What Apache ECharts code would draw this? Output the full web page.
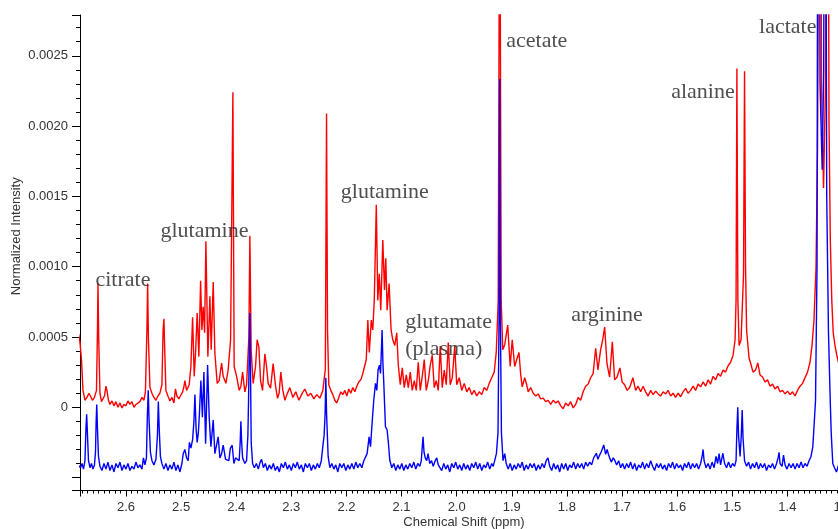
<!DOCTYPE html>
<html>
<head>
<meta charset="utf-8">
<script src="https://cdn.jsdelivr.net/npm/echarts/dist/echarts.min.js"></script>
<style>
  html, body { margin: 0; padding: 0; background: #ffffff; overflow: hidden; }
  #chart { width: 838px; height: 529px; }
</style>
</head>
<body>
<div id="chart"></div>
<script>
// Intensities below are stored in units of 1e-5 (normalized intensity).
const INTENSITY_UNIT = 1e-5;

// Upper trace: [chemical shift (ppm), intensity / 1e-5]
const redSpectrum = [
  [2.686, 52], [2.6834, 46], [2.6807, 34], [2.6780, 12], [2.6744, 5], [2.6708, 7], [2.6671, 10], [2.6644, 11],
  [2.6608, 5], [2.6572, 7], [2.6535, 12], [2.6517, 55], [2.6508, 88], [2.6494, 48], [2.6472, 10], [2.6445, 4],
  [2.6417, 5], [2.6390, 8], [2.6363, 15], [2.6345, 12], [2.6318, 5], [2.6291, 2], [2.6254, 4.5], [2.6218, 1],
  [2.6182, 4], [2.6145, 0], [2.6109, 3], [2.6073, -0.5], [2.6037, 2], [2.6000, 1], [2.5964, 4.5], [2.5928, 2],
  [2.5892, 4], [2.5855, 0], [2.5819, 2], [2.5783, 1], [2.5747, 4], [2.5710, 7], [2.5674, 5], [2.5647, 11],
  [2.5620, 55], [2.5607, 88], [2.5592, 48], [2.5565, 14], [2.5529, 10], [2.5493, 7], [2.5456, 5], [2.5420, 8],
  [2.5384, 10], [2.5348, 16], [2.5326, 55], [2.5311, 63], [2.5297, 41], [2.5275, 12], [2.5239, 8], [2.5203, 4.5],
  [2.5166, 7], [2.5130, 3], [2.5103, 13], [2.5076, 8], [2.5039, 6], [2.5021, 7.5], [2.4972, 11], [2.4949, 14.6],
  [2.4931, 19], [2.4900, 12], [2.4853, 16], [2.4822, 29], [2.4791, 64], [2.4762, 22], [2.4737, 39], [2.4708, 67],
  [2.4677, 36], [2.4646, 90], [2.4622, 55], [2.4599, 71.5], [2.4573, 53], [2.4550, 118], [2.4514, 36], [2.4477, 79],
  [2.4454, 41], [2.4417, 89], [2.4387, 38.6], [2.4345, 17], [2.4309, 19], [2.4265, 31.5], [2.4236, 22], [2.4187, 17],
  [2.4146, 26.5], [2.4102, 48], [2.4060, 224], [2.4037, 29], [2.3993, 22], [2.3946, 12], [2.3915, 15], [2.3884, 25],
  [2.3843, 11], [2.3812, 16], [2.3770, 50], [2.3752, 122], [2.3728, 40], [2.3692, 17], [2.3649, 29], [2.3620, 48],
  [2.3589, 43], [2.3558, 19], [2.3522, 12], [2.3480, 38], [2.3449, 29], [2.3420, 17], [2.3377, 13.5], [2.3330, 31],
  [2.3286, 15], [2.3250, 6.4], [2.3221, 10], [2.3190, 25], [2.3154, 12], [2.3117, 5], [2.3081, 9], [2.3027, 14],
  [2.2972, 7], [2.2918, 11], [2.2863, 5], [2.2809, 9.5], [2.2755, 13], [2.2700, 8], [2.2646, 10], [2.2592, 6],
  [2.2537, 9], [2.2483, 6.5], [2.2428, 12], [2.2383, 27], [2.2361, 209], [2.2343, 55], [2.2320, 16], [2.2283, 12],
  [2.2247, 9], [2.2211, 5], [2.2175, 3], [2.2138, 7], [2.2102, 11], [2.2066, 9], [2.2029, 12], [2.1993, 8],
  [2.1957, 13], [2.1921, 10], [2.1884, 14], [2.1848, 11], [2.1812, 15], [2.1776, 18], [2.1739, 19.5], [2.1703, 24],
  [2.1667, 25], [2.1640, 34], [2.1612, 62], [2.1585, 39], [2.1549, 62], [2.1522, 55], [2.1495, 76], [2.1458, 144],
  [2.1431, 76], [2.1404, 95], [2.1377, 69], [2.1340, 119], [2.1310, 83.5], [2.1286, 106], [2.1262, 69], [2.1226, 88],
  [2.1190, 55], [2.1159, 48], [2.1123, 44], [2.1087, 53], [2.1059, 30], [2.1023, 16], [2.0987, 28], [2.0951, 14],
  [2.0914, 23], [2.0878, 14], [2.0842, 25], [2.0806, 12], [2.0769, 19], [2.0733, 12], [2.0697, 32], [2.0661, 12],
  [2.0624, 22], [2.0588, 34], [2.0552, 12], [2.0515, 19], [2.0479, 30], [2.0443, 37], [2.0407, 14], [2.0370, 19],
  [2.0334, 12], [2.0298, 43.5], [2.0262, 14], [2.0225, 26.5], [2.0189, 16], [2.0153, 46], [2.0117, 16], [2.0080, 21],
  [2.0035, 43.5], [1.9999, 16], [1.9953, 21], [1.9908, 12], [1.9863, 17], [1.9817, 11], [1.9772, 14], [1.9727, 9],
  [1.9681, 12], [1.9636, 8], [1.9591, 11], [1.9545, 9], [1.9500, 14], [1.9455, 12], [1.9409, 17], [1.9364, 21],
  [1.9319, 25], [1.9282, 39], [1.9246, 76], [1.9219, 420], [1.9192, 76], [1.9164, 41], [1.9128, 44.5], [1.9074, 58.5],
  [1.9029, 29], [1.8992, 48], [1.8947, 29], [1.8911, 34], [1.8869, 39], [1.8838, 23], [1.8811, 14.5], [1.8766, 21],
  [1.8729, 16], [1.8702, 11], [1.8657, 14], [1.8612, 10], [1.8566, 8], [1.8521, 9.5], [1.8476, 6], [1.8430, 6.5],
  [1.8385, 4], [1.8340, 5], [1.8294, 2], [1.8249, 5], [1.8204, 3], [1.8158, 4.5], [1.8113, 1], [1.8068, -1],
  [1.8022, 3], [1.7977, 1], [1.7932, 4], [1.7886, -0.5], [1.7841, 2], [1.7796, 7], [1.7750, 5], [1.7705, 11],
  [1.7660, 15], [1.7614, 16.5], [1.7569, 21], [1.7524, 24], [1.7478, 42], [1.7437, 26.5], [1.7388, 41], [1.7351, 48],
  [1.7315, 57], [1.7273, 31], [1.7225, 21.5], [1.7176, 46.5], [1.7134, 19.5], [1.7089, 21.5], [1.7038, 28], [1.6998, 18],
  [1.6953, 16], [1.6907, 12], [1.6862, 14], [1.6802, 21], [1.6753, 12], [1.6708, 15], [1.6662, 11], [1.6617, 15],
  [1.6572, 11], [1.6526, 8], [1.6481, 12], [1.6436, 9], [1.6390, 11.5], [1.6345, 9.5], [1.6300, 8], [1.6254, 11],
  [1.6209, 9.5], [1.6164, 12], [1.6118, 8], [1.6073, 10], [1.6028, 7], [1.5982, 10], [1.5937, 7.5], [1.5892, 11],
  [1.5846, 13.5], [1.5801, 10], [1.5756, 12], [1.5710, 15], [1.5665, 12], [1.5620, 16.5], [1.5574, 14.5], [1.5529, 18],
  [1.5484, 15], [1.5438, 19.5], [1.5393, 16.5], [1.5348, 22], [1.5302, 19.5], [1.5257, 24], [1.5212, 22], [1.5166, 26.5],
  [1.5121, 25], [1.5076, 29.5], [1.5030, 32], [1.4985, 37], [1.4949, 48], [1.4931, 76], [1.4916, 241], [1.4898, 76],
  [1.4876, 44], [1.4858, 43], [1.4840, 48], [1.4795, 95], [1.4777, 239], [1.4759, 100], [1.4740, 55], [1.4695, 35],
  [1.4668, 31.5], [1.4623, 25], [1.4577, 26.5], [1.4536, 31.5], [1.4496, 23], [1.4450, 21.5], [1.4405, 18], [1.4360, 19.5],
  [1.4314, 15], [1.4269, 16.5], [1.4224, 13], [1.4178, 15], [1.4133, 11], [1.4088, 12], [1.4042, 9.5], [1.3997, 11.5],
  [1.3952, 9], [1.3906, 11], [1.3861, 8], [1.3816, 12], [1.3770, 15], [1.3725, 17], [1.3680, 21], [1.3634, 25],
  [1.3589, 32], [1.3553, 44], [1.3517, 62], [1.3480, 100], [1.3453, 183], [1.3431, 350], [1.3407, 620], [1.3381, 230],
  [1.3344, 156], [1.3308, 230], [1.3272, 600], [1.3245, 204], [1.3221, 119], [1.3194, 76], [1.3168, 53], [1.3136, 44],
  [1.3109, 38], [1.3072, 32], [1.3018, 27]
];

// Lower trace: [chemical shift (ppm), intensity / 1e-5]
const blueSpectrum = [
  [2.6870, -41], [2.6825, -43], [2.6798, -40], [2.6771, -44], [2.6744, -38], [2.6726, -15], [2.6713, -5], [2.6698, -20],
  [2.6680, -38], [2.6653, -43], [2.6626, -40], [2.6599, -44], [2.6572, -41], [2.6553, -32], [2.6541, -10], [2.6530, 2],
  [2.6517, -15], [2.6499, -35], [2.6472, -42], [2.6436, -45], [2.6399, -40], [2.6363, -44], [2.6327, -39], [2.6291, -45],
  [2.6254, -41], [2.6218, -46], [2.6182, -40], [2.6145, -43], [2.6109, -39], [2.6073, -45], [2.6037, -41], [2.6000, -44],
  [2.5964, -40], [2.5928, -45], [2.5892, -42], [2.5855, -44], [2.5819, -39], [2.5783, -43], [2.5747, -41], [2.5710, -44],
  [2.5683, -36], [2.5656, -41], [2.5629, -36], [2.5611, -5], [2.5596, 12], [2.5580, -10], [2.5556, -32], [2.5529, -38],
  [2.5493, -41], [2.5456, -37], [2.5429, -20], [2.5413, 4], [2.5397, -15], [2.5375, -35], [2.5348, -40], [2.5311, -44],
  [2.5275, -40], [2.5239, -45], [2.5203, -41], [2.5166, -44], [2.5130, -39], [2.5094, -45], [2.5058, -41], [2.5021, -46],
  [2.4985, -40], [2.4961, -33], [2.4931, -30], [2.4900, -36], [2.4871, -38], [2.4849, -25], [2.4822, -29], [2.4791, -23],
  [2.4767, -10], [2.4749, 9], [2.4728, -15], [2.4708, -25], [2.4686, -18], [2.4668, -5], [2.4641, 19], [2.4613, -7],
  [2.4586, 25], [2.4555, -26], [2.4519, 30], [2.4490, -7], [2.4459, -28], [2.4417, -9], [2.4387, -33], [2.4356, -27],
  [2.4327, -21], [2.4296, -36], [2.4265, -33], [2.4236, -27], [2.4193, -37], [2.4164, -36], [2.4133, -38], [2.4106, -29],
  [2.4073, -27], [2.4042, -40], [2.4011, -36], [2.3982, -36], [2.3946, -38], [2.3928, -25], [2.3915, -10], [2.3901, -25],
  [2.3884, -36], [2.3843, -40], [2.3812, -38], [2.3788, -20], [2.3776, 5], [2.3763, 40], [2.3752, 67], [2.3741, 30],
  [2.3728, -25], [2.3703, -40], [2.3670, -43], [2.3634, -40], [2.3598, -44], [2.3565, -39], [2.3540, -37], [2.3507, -43],
  [2.3471, -40], [2.3435, -45], [2.3398, -41], [2.3362, -44], [2.3326, -40], [2.3290, -45], [2.3253, -42], [2.3217, -46],
  [2.3181, -40], [2.3145, -43], [2.3108, -39], [2.3072, -44], [2.3036, -41], [2.3000, -45], [2.2963, -40], [2.2927, -43],
  [2.2891, -39], [2.2855, -44], [2.2818, -41], [2.2782, -46], [2.2746, -40], [2.2709, -43], [2.2673, -40], [2.2637, -45],
  [2.2601, -41], [2.2564, -44], [2.2528, -40], [2.2492, -43], [2.2456, -38], [2.2434, -30], [2.2405, -20], [2.2387, -5],
  [2.2374, 21], [2.2360, -5], [2.2332, -35], [2.2301, -43], [2.2265, -40], [2.2229, -44], [2.2193, -41], [2.2156, -46],
  [2.2120, -40], [2.2084, -43], [2.2048, -40], [2.2011, -45], [2.1975, -41], [2.1939, -44], [2.1903, -40], [2.1866, -44],
  [2.1830, -39], [2.1794, -43], [2.1757, -40], [2.1721, -43], [2.1685, -38], [2.1654, -37], [2.1625, -33], [2.1589, -21],
  [2.1563, -28], [2.1527, -7], [2.1504, 5], [2.1473, 17], [2.1449, 12], [2.1426, 26.5], [2.1400, 30], [2.1382, 24],
  [2.1366, 40], [2.1353, 55], [2.1337, 30], [2.1322, 17], [2.1292, -14], [2.1262, -16], [2.1237, -26], [2.1214, -37.5],
  [2.1177, -43], [2.1141, -40], [2.1105, -45], [2.1068, -41], [2.1032, -44], [2.0996, -40], [2.0960, -45], [2.0923, -41],
  [2.0887, -44], [2.0851, -40], [2.0815, -43], [2.0778, -39], [2.0742, -44], [2.0706, -40], [2.0669, -42], [2.0642, -38],
  [2.0624, -28], [2.0610, -21], [2.0592, -32], [2.0570, -36], [2.0543, -38], [2.0519, -33], [2.0488, -40], [2.0457, -38],
  [2.0425, -42], [2.0389, -38], [2.0361, -36], [2.0334, -41], [2.0307, -42], [2.0271, -45], [2.0234, -40], [2.0198, -44],
  [2.0162, -41], [2.0126, -46], [2.0089, -40], [2.0053, -43], [2.0017, -39], [1.9981, -44], [1.9944, -41], [1.9908, -45],
  [1.9872, -40], [1.9836, -44], [1.9799, -41], [1.9763, -45], [1.9727, -40], [1.9690, -43], [1.9654, -39], [1.9618, -44],
  [1.9582, -40], [1.9545, -45], [1.9509, -41], [1.9473, -43], [1.9437, -39], [1.9400, -44], [1.9364, -40], [1.9337, -42],
  [1.9310, -38], [1.9279, -33], [1.9250, -18], [1.9232, 60], [1.9219, 233.5], [1.9206, 60], [1.9188, -18], [1.9159, -38],
  [1.9128, -33], [1.9101, -40], [1.9065, -44], [1.9029, -40], [1.8992, -45], [1.8956, -41], [1.8920, -44], [1.8884, -40],
  [1.8847, -43], [1.8811, -39], [1.8775, -45], [1.8739, -41], [1.8702, -44], [1.8666, -40], [1.8630, -43], [1.8594, -40],
  [1.8557, -45], [1.8521, -41], [1.8485, -44], [1.8448, -40], [1.8412, -43], [1.8376, -38], [1.8343, -36], [1.8312, -42],
  [1.8276, -45], [1.8240, -40], [1.8204, -44], [1.8167, -41], [1.8131, -46], [1.8095, -40], [1.8059, -44], [1.8022, -40],
  [1.7986, -45], [1.7950, -41], [1.7914, -43], [1.7877, -39], [1.7841, -44], [1.7805, -40], [1.7768, -43], [1.7732, -40],
  [1.7696, -44], [1.7660, -39], [1.7623, -42], [1.7587, -39], [1.7551, -41], [1.7515, -36], [1.7466, -32.7], [1.7437, -37],
  [1.7406, -34], [1.7375, -31.5], [1.7351, -29], [1.7333, -26.8], [1.7315, -30], [1.7297, -33.5], [1.7270, -30], [1.7252, -32.7],
  [1.7225, -36], [1.7194, -39], [1.7161, -36], [1.7134, -37.5], [1.7098, -41], [1.7061, -38], [1.7025, -43], [1.6989, -40],
  [1.6953, -44], [1.6916, -40], [1.6880, -43], [1.6844, -39], [1.6807, -44], [1.6771, -40], [1.6735, -45], [1.6699, -41],
  [1.6662, -43], [1.6626, -39], [1.6590, -44], [1.6554, -40], [1.6517, -43], [1.6481, -38], [1.6445, -42], [1.6409, -45],
  [1.6372, -40], [1.6336, -43], [1.6300, -40], [1.6264, -44], [1.6227, -41], [1.6191, -45], [1.6155, -40], [1.6118, -43],
  [1.6082, -39], [1.6046, -44], [1.6010, -40], [1.5973, -43], [1.5937, -41], [1.5901, -45], [1.5865, -40], [1.5828, -43],
  [1.5792, -39], [1.5756, -44], [1.5720, -40], [1.5683, -43], [1.5647, -40], [1.5611, -44], [1.5574, -40], [1.5547, -35],
  [1.5529, -30], [1.5511, -38], [1.5475, -43], [1.5438, -40], [1.5402, -44], [1.5366, -39], [1.5330, -43], [1.5294, -35],
  [1.5266, -40], [1.5239, -33], [1.5212, -41], [1.5170, -32.7], [1.5139, -40], [1.5103, -43], [1.5067, -39], [1.5030, -43],
  [1.4994, -40], [1.4958, -42], [1.4931, -38], [1.4915, -15], [1.4900, 0], [1.4886, -20], [1.4858, -35], [1.4836, -20],
  [1.4820, -2], [1.4804, -22], [1.4777, -38], [1.4740, -42], [1.4704, -39], [1.4668, -44], [1.4632, -40], [1.4595, -43],
  [1.4559, -39], [1.4523, -44], [1.4487, -40], [1.4450, -43], [1.4414, -40], [1.4378, -45], [1.4341, -41], [1.4305, -43],
  [1.4269, -40], [1.4233, -44], [1.4196, -40], [1.4169, -36], [1.4151, -32], [1.4133, -40], [1.4097, -42], [1.4070, -34],
  [1.4042, -41], [1.4006, -44], [1.3970, -40], [1.3933, -43], [1.3897, -40], [1.3861, -44], [1.3825, -40], [1.3788, -43],
  [1.3752, -39], [1.3716, -43], [1.3680, -40], [1.3643, -42], [1.3607, -38], [1.3571, -35], [1.3538, -28], [1.3511, -10],
  [1.3489, 5], [1.3462, 100], [1.3439, 650], [1.3407, 230], [1.3368, 169], [1.3341, 240], [1.3317, 620], [1.3286, 150],
  [1.3254, 53], [1.3226, 10], [1.3205, -18], [1.3176, -40], [1.3145, -43], [1.3109, -46], [1.3072, -41], [1.3018, -44]
];

// Peak assignments: label text anchored at [shift (ppm), normalized intensity]
const annotationText = ['citrate', 'glutamine', 'glutamine', 'glutamate\n(plasma)', 'acetate', 'arginine', 'alanine', 'lactate'];
const annotationShift = [2.6562, 2.5384, 2.2111, 2.0942, 1.9110, 1.7932, 1.6118, 1.4523];
const annotationIntensity = [0.000905, 0.001255, 0.001530, 0.000510, 0.002604, 0.000655, 0.002240, 0.002702];

const toSeries = pts => pts.map(p => [p[0], p[1] * INTENSITY_UNIT]);

const axisFont = { fontFamily: 'Liberation Sans, Arial, sans-serif', fontSize: 13, color: '#333333' };

const chart = echarts.init(document.getElementById('chart'), null, { renderer: 'canvas' });

chart.setOption({
  animation: false,
  backgroundColor: '#ffffff',
  // the plotting area runs a little past the right edge of the canvas
  grid: { left: 80, right: -10, top: 15, bottom: 38.5, containLabel: false, outerBoundsMode: 'none' },
  xAxis: {
    type: 'value',
    inverse: true,
    min: 1.29,
    max: 2.6834,
    splitNumber: 14,
    name: 'Chemical Shift (ppm)',
    nameLocation: 'middle',
    nameGap: 25,
    nameMoveOverlap: false,
    nameTextStyle: axisFont,
    axisLine: { show: true, onZero: false, lineStyle: { color: '#000000', width: 1 } },
    axisTick: { show: true, length: 6, lineStyle: { color: '#000000', width: 1 } },
    minorTick: { show: true, splitNumber: 10, length: 3, lineStyle: { color: '#000000', width: 1 } },
    axisLabel: Object.assign({
      margin: 10,
      showMinLabel: false,
      showMaxLabel: false,
      formatter: v => v.toFixed(1)
    }, axisFont),
    splitLine: { show: false }
  },
  yAxis: {
    type: 'value',
    min: -0.000592,
    max: 0.00279,
    splitNumber: 7,
    name: 'Normalized Intensity',
    nameLocation: 'middle',
    nameGap: 57,
    nameMoveOverlap: false,
    nameTextStyle: Object.assign({ padding: [0, 0, 0, 33] }, axisFont),
    axisLine: { show: true, onZero: false, lineStyle: { color: '#000000', width: 1 } },
    axisTick: { show: true, length: 8, lineStyle: { color: '#000000', width: 1 } },
    minorTick: { show: true, splitNumber: 5, length: 4, lineStyle: { color: '#000000', width: 1 } },
    axisLabel: Object.assign({
      margin: 12,
      showMinLabel: false,
      showMaxLabel: false,
      formatter: v => (v < -1e-12 ? '' : (Math.abs(v) < 1e-12 ? '0' : v.toFixed(4)))
    }, axisFont),
    splitLine: { show: false }
  },
  series: [
    {
      type: 'line',
      data: toSeries(redSpectrum),
      showSymbol: false,
      symbol: 'none',
      silent: true,
      z: 2,
      lineStyle: { color: '#ff0000', width: 1.4 }
    },
    {
      type: 'line',
      data: toSeries(blueSpectrum),
      showSymbol: false,
      symbol: 'none',
      silent: true,
      z: 3,
      lineStyle: { color: '#0000ff', width: 1.4 }
    },
    {
      type: 'scatter',
      silent: true,
      z: 5,
      symbolSize: 1,
      itemStyle: { color: 'rgba(0,0,0,0)' },
      data: annotationText.map((t, i) => ({ name: t, value: [annotationShift[i], annotationIntensity[i]] })),
      label: {
        show: true,
        position: 'right',
        distance: 0,
        formatter: p => p.name,
        fontFamily: 'Liberation Serif, Times New Roman, serif',
        fontSize: 22,
        lineHeight: 27,
        color: '#222222'
      }
    }
  ]
});
</script>
</body>
</html>
